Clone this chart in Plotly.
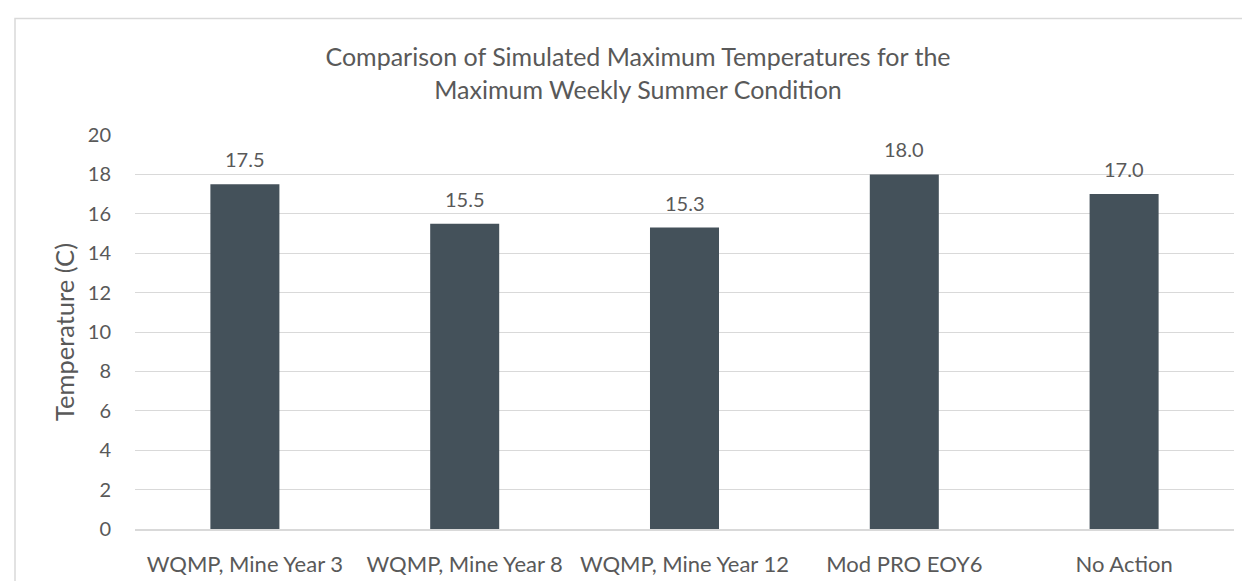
import plotly.graph_objects as go

# Chart values
categories = ['WQMP, Mine Year 3', 'WQMP, Mine Year 8', 'WQMP, Mine Year 12', 'Mod PRO EOY6', 'No Action']
max_temps = [17.5, 15.5, 15.3, 18.0, 17.0]
y_ticks = [0, 2, 4, 6, 8, 10, 12, 14, 16, 18, 20]

text_color = '#595959'
grid_color = '#d9d9d9'
bar_color = '#44515a'
font_name = 'Lato'

fig = go.Figure()
fig.add_trace(go.Bar(x = categories,
                     y = max_temps,
                     marker_color = bar_color,
                     marker_line_width = 0,
                     hovertemplate = '%{x}<br>%{y:.1f} C<extra></extra>'))

# Data labels sitting above each bar
for cat, val in zip(categories, max_temps):
    fig.add_annotation(x = cat, y = val, text = f'{val:.1f}',
                       showarrow = False, yanchor = 'middle', yshift = 25,
                       font = dict(family = font_name, size = 20, color = text_color))

# Y axis title
fig.add_annotation(xref = 'paper', yref = 'paper', x = (56 - 127) / 1099, y = 0.5,
                   text = 'Temperature (C)', textangle = -90, showarrow = False,
                   xanchor = 'center', yanchor = 'middle',
                   font = dict(family = font_name, size = 25.5, color = text_color))

# Light border round the chart area
fig.add_shape(type = 'rect', xref = 'paper', yref = 'paper',
              x0 = (7 - 127) / 1099, x1 = (1252 - 127) / 1099,
              y0 = (526 - 584) / 399, y1 = (526 - 9) / 399,
              line = dict(color = grid_color, width = 1.5), layer = 'below')

fig.update_layout(width = 1250, height = 581,
                  margin = dict(l = 127, r = 24, t = 127, b = 55),
                  paper_bgcolor = 'white', plot_bgcolor = 'white',
                  font = dict(family = font_name, color = text_color),
                  title = dict(text = 'Comparison of Simulated Maximum Temperatures for the<br>Maximum Weekly Summer Condition',
                               x = 630 / 1250, xanchor = 'center', xref = 'container',
                               y = 1 - 58 / 581, yanchor = 'middle', yref = 'container',
                               font = dict(family = font_name, size = 25, color = text_color)),
                  bargap = 0.686,
                  showlegend = False)

fig.update_xaxes(showgrid = False, showline = True, linecolor = grid_color, linewidth = 1.5,
                 ticks = '', ticklabelstandoff = 15,
                 tickfont = dict(family = font_name, size = 22, color = text_color))

fig.update_yaxes(range = [0, 20], tickvals = y_ticks, showgrid = True,
                 gridcolor = grid_color, gridwidth = 1.3, zeroline = False,
                 showline = False, ticks = '', ticklabelstandoff = 23,
                 tickfont = dict(family = font_name, size = 20, color = text_color))

fig.write_html("out.html")
